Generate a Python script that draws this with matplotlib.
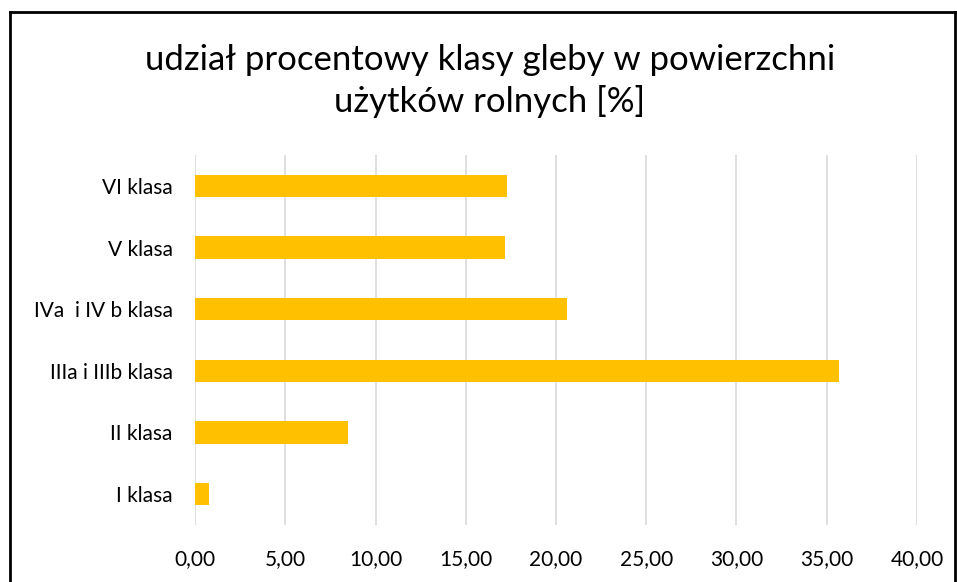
import matplotlib
matplotlib.use("Agg")
import matplotlib.pyplot as plt
from matplotlib.lines import Line2D
from matplotlib.ticker import FuncFormatter

categories = ["I klasa", "II klasa", "IIIa i IIIb klasa", "IVa  i IV b klasa", "V klasa", "VI klasa"]
values = [0.8, 8.5, 35.7, 20.6, 17.2, 17.3]
xticks = [0, 5, 10, 15, 20, 25, 30, 35, 40]

plt.rcParams["font.family"] = ["Lato", "DejaVu Sans"]
W, H = 957, 582
fig = plt.figure(figsize=(W / 100, H / 100), dpi=100)
ax = fig.add_axes([195 / W, 1 - 525 / H, (917 - 195) / W, (525 - 155) / H])

ax.barh(range(len(categories)), values, height=0.36, color="#FFC000", zorder=3)
ax.set_yticks(range(len(categories)))
ax.set_yticklabels(categories, fontsize=15, color="#000000")
ax.set_ylim(-0.5, len(categories) - 0.5)
ax.set_xlim(0, 40)
ax.set_xticks(xticks)
ax.xaxis.set_major_formatter(FuncFormatter(lambda v, p: f"{v:.2f}".replace(".", ",")))
ax.tick_params(axis="x", labelsize=15, length=0, pad=17)
ax.tick_params(axis="y", length=0, pad=16)
ax.grid(axis="x", color="#d9d9d9", linewidth=1.2, zorder=0)
for s in ax.spines.values():
    s.set_visible(False)

fig.text(490 / W, 1 - 81 / H, "udział procentowy klasy gleby w powierzchni\nużytków rolnych [%]",
         ha="center", va="center", fontsize=25, linespacing=1.3)

# outer frame (left, top, right edges)
for xs, ys in [([10, 10], [12, H]), ([10, 955], [12, 12]), ([955, 955], [12, H])]:
    fig.add_artist(Line2D([x / W for x in xs], [1 - y / H for y in ys], color="black", linewidth=2))

fig.savefig("out.png", dpi=100)
